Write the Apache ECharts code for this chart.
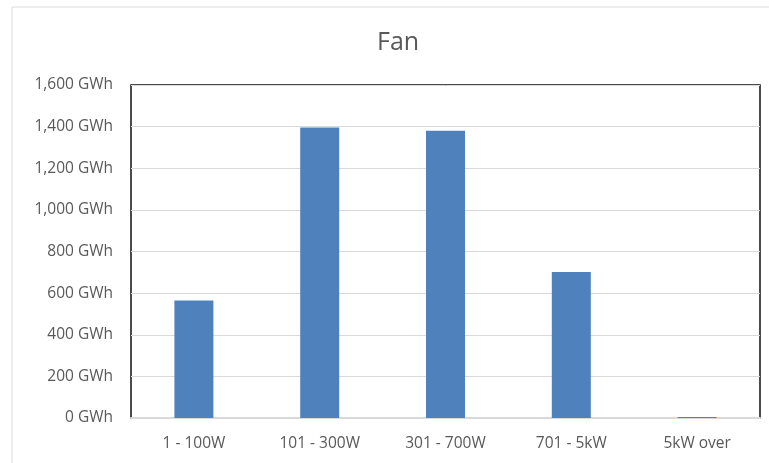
<!DOCTYPE html>
<html>
<head>
<meta charset="utf-8">
<title>Fan</title>
<script src="https://cdn.jsdelivr.net/npm/echarts@6/dist/echarts.min.js"></script>
<style>
  html, body { margin: 0; padding: 0; background: #fff; }
  #chart { width: 769px; height: 463px; }
</style>
</head>
<body>
<div id="chart"></div>
<script>
// Annual energy consumption of fans, by rated power class
const categories = ['1 - 100W', '101 - 300W', '301 - 700W', '701 - 5kW', '5kW over'];
const energyGWh = [565, 1396, 1380, 701, 5];
const yTicks = { min: 0, max: 1600, interval: 200 };

const FONT = '"Open Sans", "Noto Sans", sans-serif';
const TEXT = '#595959';

const chart = echarts.init(document.getElementById('chart'), null, { renderer: 'canvas' });

chart.setOption({
  animation: false,
  backgroundColor: '#ffffff',
  title: {
    text: 'Fan',
    left: 372,
    top: 25,
    textStyle: { color: TEXT, fontFamily: FONT, fontSize: 25, fontWeight: 'normal' }
  },
  graphic: [{
    // outer chart frame
    type: 'rect',
    shape: { x: 12, y: 7, width: 800, height: 500 },
    style: { fill: 'none', stroke: '#d9d9d9', lineWidth: 1 },
    silent: true,
    z: -1
  }],
  grid: {
    left: 131,
    right: 9,
    top: 85,
    bottom: 45,
    show: true,
    borderColor: '#111111',
    borderWidth: 1.5,
    backgroundColor: 'transparent'
  },
  xAxis: {
    type: 'category',
    data: categories,
    axisLine: { show: true, lineStyle: { color: '#d9d9d9', width: 2 } },
    axisTick: { show: false },
    axisLabel: { color: TEXT, fontFamily: FONT, fontSize: 15.5, margin: 18 }
  },
  yAxis: {
    type: 'value',
    min: yTicks.min,
    max: yTicks.max,
    interval: yTicks.interval,
    axisLine: { show: false },
    axisTick: { show: false },
    splitLine: { show: true, lineStyle: { color: '#d9d9d9', width: 1 } },
    axisLabel: {
      color: TEXT,
      fontFamily: FONT,
      fontSize: 15.5,
      margin: 18,
      formatter: v => v.toLocaleString('en-US') + ' GWh'
    }
  },
  series: [{
    type: 'bar',
    data: energyGWh,
    barWidth: '31%',
    itemStyle: { color: '#4f81bd' }
  }]
});
</script>
</body>
</html>
